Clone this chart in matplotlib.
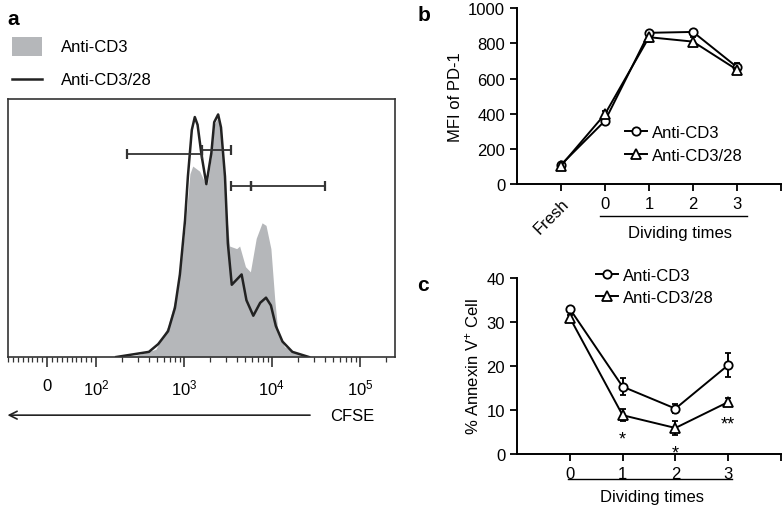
import matplotlib
matplotlib.use('Agg')
import matplotlib.pyplot as plt
from matplotlib.patches import Rectangle, FancyArrowPatch
from matplotlib.lines import Line2D

plt.rcParams['font.family'] = ['Liberation Sans', 'DejaVu Sans']
plt.rcParams['mathtext.default'] = 'regular'
plt.rcParams['font.size'] = 12

# panel a - CFSE histograms (normalised count)
cd3_cfse = [220, 310, 480, 660, 860, 1030, 1170, 1260, 1510, 1710, 1850, 2050, 2210,
            2450, 2640, 2930, 3310, 3980, 4300, 5010, 5700, 6640, 7740, 8580, 9750,
            10800, 11700, 13900, 20500, 26400]
cd3_count = [0, 0.01, 0.03, 0.12, 0.27, 0.50, 0.71, 0.74, 0.72, 0.68, 0.67, 0.78, 0.90,
             0.93, 0.88, 0.62, 0.43, 0.42, 0.43, 0.35, 0.33, 0.46, 0.52, 0.51, 0.42,
             0.22, 0.10, 0.04, 0.01, 0]
cd328_cfse = [170, 400, 510, 660, 790, 900, 1030, 1110, 1230, 1330, 1430, 1590, 1800,
              2050, 2210, 2450, 2640, 2930, 3160, 3500, 4530, 5140, 6150, 7360, 8580,
              9750, 11100, 13200, 17100, 26400]
cd328_count = [0, 0.02, 0.05, 0.10, 0.19, 0.32, 0.53, 0.70, 0.88, 0.93, 0.90, 0.78, 0.67,
               0.79, 0.91, 0.94, 0.89, 0.70, 0.44, 0.28, 0.32, 0.22, 0.16, 0.21, 0.23,
               0.20, 0.12, 0.06, 0.02, 0]
gate_lo = [227, 1585, 3415, 5843]
gate_hi = [1626, 3415, 5843, 39800]
gate_y = [0.787, 0.802, 0.663, 0.663]
a_ticks = [0, 100, 1000, 10000, 100000]
a_ticklabels = ['0', '$10^{2}$', '$10^{3}$', '$10^{4}$', '$10^{5}$']

# panel b - MFI of PD-1
b_labels = ['Fresh', '0', '1', '2', '3']
b_cd3 = [110, 360, 860, 865, 665]
b_cd3_err = [10, 15, 12, 10, 22]
b_cd328 = [105, 398, 835, 810, 650]
b_cd328_err = [10, 15, 25, 25, 20]

# panel c - % Annexin V+ cells
c_labels = ['0', '1', '2', '3']
c_cd3 = [33, 15.3, 10.3, 20.2]
c_cd3_err = [0.5, 1.9, 1.1, 2.8]
c_cd328 = [31, 8.8, 5.9, 11.8]
c_cd328_err = [0.5, 1.3, 1.6, 0.8]
c_stars = ['', '*', '*', '**']

gray = '#b5b7ba'
dark = '#222222'

fig = plt.figure(figsize=(7.84, 5.10), dpi=100)

# ---------- a ----------
ax = fig.add_axes([0.0102, 0.298, 0.4936, 0.506])
ax.set_xscale('symlog', linthresh=100, linscale=0.5)
ax.fill_between(cd3_cfse, cd3_count, color=gray, lw=0)
ax.plot(cd328_cfse, cd328_count, color=dark, lw=1.8)
for lo, hi, y in zip(gate_lo, gate_hi, gate_y):
    ax.plot([lo, hi], [y, y], color='#333333', lw=1.3)
    ax.vlines([lo, hi], y - 0.018, y + 0.018, color='#333333', lw=1.6)
ax.set_xlim(-80, 251000)
ax.set_ylim(0, 1.0)
ax.set_yticks([])
ax.set_xticks(a_ticks)
ax.set_xticklabels(a_ticklabels)
minor = [-s * 10 for s in range(1, 9)] + [s * 10 for s in range(1, 10)]
for dec in [100, 1000, 10000, 100000]:
    minor += [dec * s for s in range(2, 10) if dec * s < 251000]
ax.set_xticks(minor, minor=True)
ax.tick_params(axis='x', which='major', length=7, width=1.2, pad=8, labelsize=12, color='#333333')
ax.tick_params(axis='x', which='minor', length=3.5, width=0.9, color='#333333')
for s in ax.spines.values():
    s.set_linewidth(1.2)
    s.set_color('#333333')

fig.text(0.010, 0.962, 'a', fontsize=15, fontweight='bold', va='center')
fig.add_artist(Rectangle((0.0153, 0.888), 0.038, 0.037, transform=fig.transFigure,
                         facecolor=gray, edgecolor='none'))
fig.text(0.078, 0.906, 'Anti-CD3', fontsize=12, va='center')
fig.add_artist(Line2D([0.0153, 0.0536], [0.843, 0.843], transform=fig.transFigure,
                      color=dark, lw=1.8))
fig.text(0.078, 0.843, 'Anti-CD3/28', fontsize=12, va='center')
fig.add_artist(FancyArrowPatch((0.399, 0.184), (0.006, 0.184), transform=fig.transFigure,
                               arrowstyle='->', mutation_scale=14, color=dark, lw=1.2))
fig.text(0.421, 0.184, 'CFSE', fontsize=12, va='center')


def style(ax):
    for side in ['top', 'right']:
        ax.spines[side].set_visible(False)
    for side in ['left', 'bottom']:
        ax.spines[side].set_linewidth(1.4)
    ax.tick_params(length=5, width=1.3, labelsize=12)


def handles():
    h1 = Line2D([], [], color='black', marker='o', ms=6, mfc='white', mew=1.3, lw=1.4)
    h2 = Line2D([], [], color='black', marker='^', ms=6.5, mfc='white', mew=1.3, lw=1.4)
    return [h1, h2], ['Anti-CD3', 'Anti-CD3/28']


# ---------- b ----------
bx = fig.add_axes([0.6594, 0.637, 0.3368, 0.345])
xb = list(range(len(b_labels)))
bx.errorbar(xb, b_cd3, yerr=b_cd3_err, color='black', marker='o', ms=6, mfc='white',
            mew=1.3, lw=1.4, capsize=2.5)
bx.errorbar(xb, b_cd328, yerr=b_cd328_err, color='black', marker='^', ms=6.5, mfc='white',
            mew=1.3, lw=1.4, capsize=2.5)
bx.set_xlim(-1, 5)
bx.set_ylim(0, 1000)
bx.set_yticks(range(0, 1001, 200))
bx.set_xticks(xb)
bx.set_xticklabels(b_labels)
bx.set_xticks([5], minor=True)
style(bx)
bx.tick_params(axis='x', which='minor', length=5, width=1.3)
fl = bx.get_xticklabels()[0]
fl.set_rotation(45)
fl.set_ha('right')
fl.set_va('top')
fl.set_rotation_mode('anchor')
bx.set_ylabel('MFI of PD-1', fontsize=12, labelpad=4)
bx.plot([0.886, 4.23], [-0.18, -0.18], color='black', lw=1.0,
        transform=bx.get_xaxis_transform(), clip_on=False)
bx.text(2.7, -0.275, 'Dividing times', ha='center', va='center', fontsize=12,
        transform=bx.get_xaxis_transform())
bx.legend(*handles(), loc='upper left', bbox_to_anchor=(0.41, 0.335), frameon=False,
          fontsize=12, handlelength=1.3, handletextpad=0.3, borderpad=0, borderaxespad=0,
          labelspacing=0.48)
fig.text(0.532, 0.970, 'b', fontsize=15, fontweight='bold', va='center')

# ---------- c ----------
cx = fig.add_axes([0.6594, 0.108, 0.3368, 0.345])
xc = list(range(len(c_labels)))
cx.errorbar(xc, c_cd3, yerr=c_cd3_err, color='black', marker='o', ms=6, mfc='white',
            mew=1.3, lw=1.4, capsize=2.5)
cx.errorbar(xc, c_cd328, yerr=c_cd328_err, color='black', marker='^', ms=6.5, mfc='white',
            mew=1.3, lw=1.4, capsize=2.5)
for x, v, e, s in zip(xc, c_cd328, c_cd328_err, c_stars):
    if s:
        cx.text(x, v - e - 2.2, s, ha='center', va='top', fontsize=13)
cx.set_xlim(-1, 4)
cx.set_ylim(0, 40)
cx.set_yticks(range(0, 41, 10))
cx.set_xticks(xc)
cx.set_xticklabels(c_labels)
cx.set_xticks([4], minor=True)
style(cx)
cx.tick_params(axis='x', which='minor', length=5, width=1.3)
cx.set_ylabel('% Annexin V$^{+}$ Cell', fontsize=12, labelpad=4)
cx.plot([-0.04, 3.08], [-0.142, -0.142], color='black', lw=1.0,
        transform=cx.get_xaxis_transform(), clip_on=False)
cx.text(1.55, -0.24, 'Dividing times', ha='center', va='center', fontsize=12,
        transform=cx.get_xaxis_transform())
cx.legend(*handles(), loc='upper left', bbox_to_anchor=(0.30, 1.055), frameon=False,
          fontsize=12, handlelength=1.3, handletextpad=0.3, borderpad=0, borderaxespad=0,
          labelspacing=0.4)
fig.text(0.532, 0.441, 'c', fontsize=15, fontweight='bold', va='center')

fig.savefig('out.png', dpi=100)
